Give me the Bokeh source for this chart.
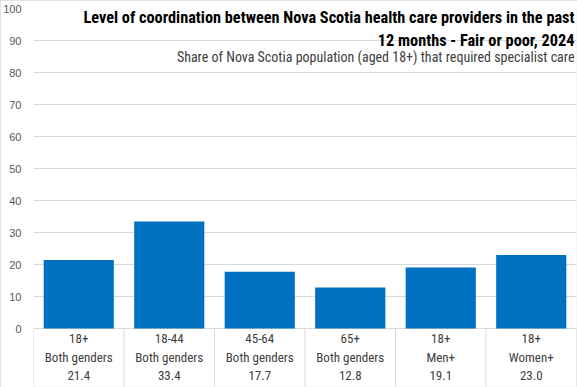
from bokeh.plotting import figure
from bokeh.models import Range1d, FixedTicker, Label
from bokeh.core.properties import value
from bokeh.embed import file_html
from bokeh.resources import INLINE

# ---- data ----
ages = ["18+", "18-44", "45-64", "65+", "18+", "18+"]
genders = ["Both genders", "Both genders", "Both genders", "Both genders", "Men+", "Women+"]
values = [21.4, 33.4, 17.7, 12.8, 19.1, 23.0]
y_ticks = [0, 10, 20, 30, 40, 50, 60, 70, 80, 90, 100]
title_line1 = "Level of coordination between Nova Scotia health care providers in the past"
title_line2 = "12 months - Fair or poor, 2024"
subtitle = "Share of Nova Scotia population (aged 18+) that required specialist care"

# ---- layout (figure pixels) ----
W, H = 577, 387
FL, FR = 32, 576      # frame left / right
FT, FB = 8, 386       # frame top / bottom
Y0 = 328              # pixel row of value 0
SCALE = (Y0 - FT) / 100.0
YMIN = -(FB - Y0) / SCALE
NCAT = len(values)
XSCALE = (FR - FL) / NCAT


def yv(py):
    return (Y0 - py) / SCALE


def xv(px):
    return (px - FL) / XSCALE


NARROW = "'Liberation Sans Narrow', 'Arial Narrow', 'Roboto Condensed', Roboto"
REG = "'Liberation Sans', Arial"

p = figure(width=W, height=H, output_backend="svg", toolbar_location=None,
           x_range=Range1d(0, NCAT), y_range=Range1d(YMIN, 100),
           x_axis_location=None,
           min_border_left=FL, min_border_right=W - FR,
           min_border_top=FT, min_border_bottom=H - FB)
p.styles = {"outline": "1px solid #D9D9D9", "outline-offset": "-1px"}
p.outline_line_color = None
p.background_fill_color = "white"
p.border_fill_color = "white"
p.xgrid.visible = False
p.ygrid.ticker = FixedTicker(ticks=y_ticks)
p.ygrid.grid_line_color = "#D9D9D9"
p.ygrid.grid_line_width = 1

ax = p.yaxis[0]
ax.ticker = FixedTicker(ticks=y_ticks)
ax.axis_line_color = None
ax.major_tick_line_color = None
ax.minor_tick_line_color = None
ax.major_tick_out = 0
ax.major_tick_in = 0
ax.major_label_standoff = 12
ax.major_label_text_font = REG
ax.major_label_text_font_size = "11px"
ax.major_label_text_color = "#595959"

centers = [i + 0.5 for i in range(NCAT)]
p.vbar(x=centers, top=values, bottom=0, width=0.775, color="#0070C0", line_color=None)

# category separators
edges = list(range(NCAT + 1))
p.segment(x0=edges, y0=[0] * len(edges), x1=edges, y1=[YMIN] * len(edges),
          line_color="#D9D9D9", line_width=1)

rows = [(338, ages), (357, genders), (375, [f"{v:.1f}" for v in values])]
for py, labels in rows:
    p.text(x=centers, y=[yv(py)] * NCAT, text=labels, text_align="center",
           text_baseline="middle", text_font=value(NARROW), text_font_size="13px",
           text_color="#404040")

p.add_layout(Label(x=xv(574), y=yv(16.5), text=title_line1, text_align="right",
                   text_baseline="middle", text_font=NARROW, text_font_size="16.3px",
                   text_font_style="bold", text_color="#000000"))
p.add_layout(Label(x=xv(574), y=yv(39.5), text=title_line2, text_align="right",
                   text_baseline="middle", text_font=NARROW, text_font_size="16.3px",
                   text_font_style="bold", text_color="#000000"))
p.add_layout(Label(x=xv(574), y=yv(56), text=subtitle, text_align="right",
                   text_baseline="middle", text_font=NARROW, text_font_size="14px",
                   text_color="#404040"))

open("out.html", "w").write(file_html(p, INLINE))
